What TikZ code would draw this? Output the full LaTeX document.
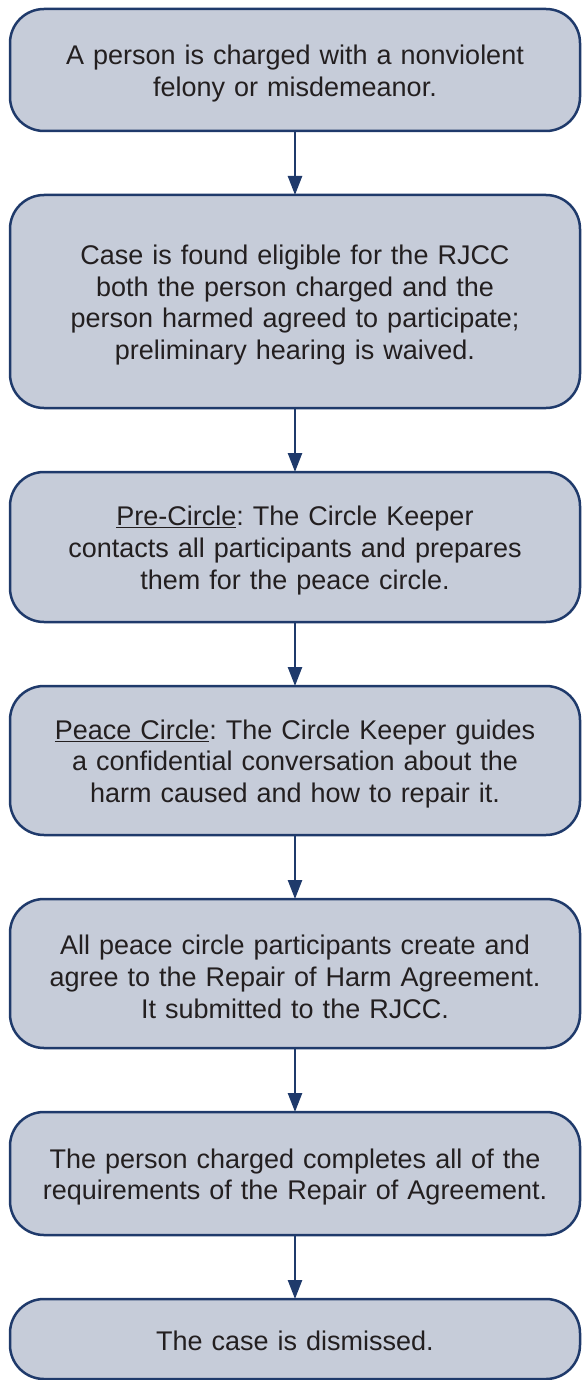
\documentclass[tikz,border=0pt]{standalone}
\usepackage{fontspec}
\setmainfont{Liberation Sans}
\usetikzlibrary{arrows.meta}
\definecolor{boxfill}{HTML}{C6CCD9}
\definecolor{boxline}{HTML}{1F3A6B}
\definecolor{txt}{HTML}{231F20}
\frenchspacing
\begin{document}
\begin{tikzpicture}[x=1pt,y=-1pt,
  stepbox/.style={draw=boxline, fill=boxfill, line width=2.5pt, rounded corners=34pt,
    minimum width=570pt, inner sep=0pt, outer sep=0pt},
  steptext/.style={text width=560pt, align=center, inner sep=0pt,
    text=txt, font=\fontsize{27}{31.8}\selectfont\frenchspacing},
  flow/.style={draw=boxline, line width=2.5pt, -{Triangle[length=19pt,width=14pt]}}]
\useasboundingbox (0,0) rectangle (581,1380);
\node[stepbox, minimum height=122pt] (b1) at (295,70) {};
\node[stepbox, minimum height=213pt] (b2) at (295,301.5) {};
\node[stepbox, minimum height=150pt] (b3) at (295,547) {};
\node[stepbox, minimum height=149pt] (b4) at (295,760.5) {};
\node[stepbox, minimum height=149pt] (b5) at (295,973.5) {};
\node[stepbox, minimum height=123pt] (b6) at (295,1173.5) {};
\node[stepbox, minimum height=80pt] (b7) at (295,1339) {};
\node[steptext] (t1) at ([yshift=-3.5pt]b1.center) {A person is charged with a nonviolent\\felony or misdemeanor.};
\node[steptext] (t2) at ([yshift=-3.5pt]b2.center) {Case is found eligible for the RJCC\\both the person charged and the\\person harmed agreed to participate;\\preliminary hearing is waived.};
\node[steptext] (t3) at ([yshift=-3.5pt]b3.center) {\underline{Pre-Circle}: The Circle Keeper\\contacts all participants and prepares\\them for the peace circle.};
\node[steptext] (t4) at ([yshift=-3.5pt]b4.center) {\underline{Peace Circle}: The Circle Keeper guides\\a confidential conversation about the\\harm caused and how to repair it.};
\node[steptext] (t5) at ([yshift=-3.5pt]b5.center) {All peace circle participants create and\\agree to the Repair of Harm Agreement.\\It submitted to the RJCC.};
\node[steptext] (t6) at ([yshift=-3.5pt]b6.center) {The person charged completes all of the\\requirements of the Repair of Agreement.};
\node[steptext] (t7) at ([yshift=-1.5pt]b7.center) {The case is dismissed.};
\draw[flow] (b1.south) -- (b2.north);
\draw[flow] (b2.south) -- (b3.north);
\draw[flow] (b3.south) -- (b4.north);
\draw[flow] (b4.south) -- (b5.north);
\draw[flow] (b5.south) -- (b6.north);
\draw[flow] (b6.south) -- (b7.north);
\end{tikzpicture}
\end{document}
